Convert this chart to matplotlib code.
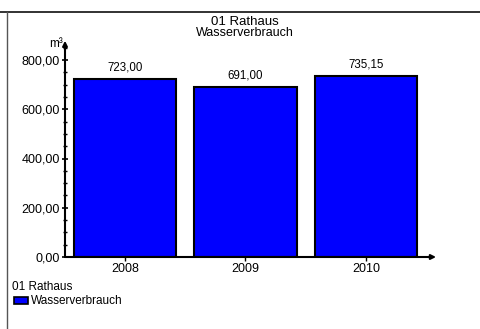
import matplotlib
matplotlib.use("Agg")
import matplotlib.pyplot as plt
from matplotlib.lines import Line2D
from matplotlib.patches import Rectangle
from matplotlib.ticker import MultipleLocator, FuncFormatter

plt.rcParams['font.family'] = ['Liberation Sans', 'DejaVu Sans']

years = ["2008", "2009", "2010"]
consumption = [723.00, 691.00, 735.15]
title_main = "01 Rathaus"
title_sub = "Wasserverbrauch"
unit = "m³"

W, H = 481, 329
fig = plt.figure(figsize=(W / 100, H / 100), dpi=100)
fig.patch.set_facecolor("white")

# outer frame: top and left edges
fig.add_artist(Line2D([0, 1], [1 - 11.5 / H, 1 - 11.5 / H], color="#222222", lw=1.3))
fig.add_artist(Line2D([7.5 / W, 7.5 / W], [0, 1 - 11.5 / H], color="#555555", lw=1.0))

ax_left, ax_right = 65 / W, 426 / W
ax_bottom, ax_top = (H - 257) / H, (H - 42) / H
ax = fig.add_axes([ax_left, ax_bottom, ax_right - ax_left, ax_top - ax_bottom])
ymax = 800 * 215 / 197
ax.set_xlim(-0.5, 2.5)
ax.set_ylim(0, ymax)

x = range(len(years))
bars = ax.bar(x, consumption, width=0.85, color="#0000ff", edgecolor="black", linewidth=1.5, zorder=2)
for xi, v in zip(x, consumption):
    ax.text(xi, v + 22, f"{v:.2f}".replace(".", ","),
            ha="center", va="bottom", fontsize=8.3)

for s in ax.spines.values():
    s.set_visible(False)

# axis lines with arrowheads
ax.annotate("", xy=(-0.5, ymax + 5), xytext=(-0.5, 0), xycoords="data",
            arrowprops=dict(arrowstyle="-|>", color="black", lw=1.5, mutation_scale=7,
                            shrinkA=0, shrinkB=0), annotation_clip=False, zorder=3)
ax.annotate("", xy=(2.5 + 10 / 120, 0), xytext=(-0.5, 0), xycoords="data",
            arrowprops=dict(arrowstyle="-|>", color="black", lw=1.5, mutation_scale=7,
                            shrinkA=0, shrinkB=0), annotation_clip=False, zorder=3)

ax.yaxis.set_major_locator(MultipleLocator(200))
ax.yaxis.set_minor_locator(MultipleLocator(50))
ax.yaxis.set_major_formatter(FuncFormatter(lambda v, p: f"{v:.2f}".replace(".", ",")))
ax.tick_params(axis="y", which="major", direction="inout", length=5, width=1.2, labelsize=9, pad=1)
ax.tick_params(axis="y", which="minor", direction="inout", length=3, width=1.0)
ax.set_xticks(list(x))
ax.set_xticklabels(years)
ax.tick_params(axis="x", direction="out", length=3, width=1.0, labelsize=9, pad=1)

ax.text(-0.5 - 2 / 120, ymax - 10, unit, ha="right", va="center", fontsize=8.5)

fig.text(245 / W, 1 - 22 / H, title_main, ha="center", va="center", fontsize=9.5)
fig.text(245 / W, 1 - 33 / H, title_sub, ha="center", va="center", fontsize=9)

# legend
fig.text(12 / W, 1 - 287 / H, title_main, ha="left", va="center", fontsize=8.5)
fig.add_artist(Rectangle((14 / W, 1 - 304 / H), 14 / W, 7 / H, transform=fig.transFigure,
                         facecolor="#0000ff", edgecolor="black", lw=1.2))
fig.text(31 / W, 1 - 301 / H, title_sub, ha="left", va="center", fontsize=8.5)

fig.savefig("out.png", dpi=100)
